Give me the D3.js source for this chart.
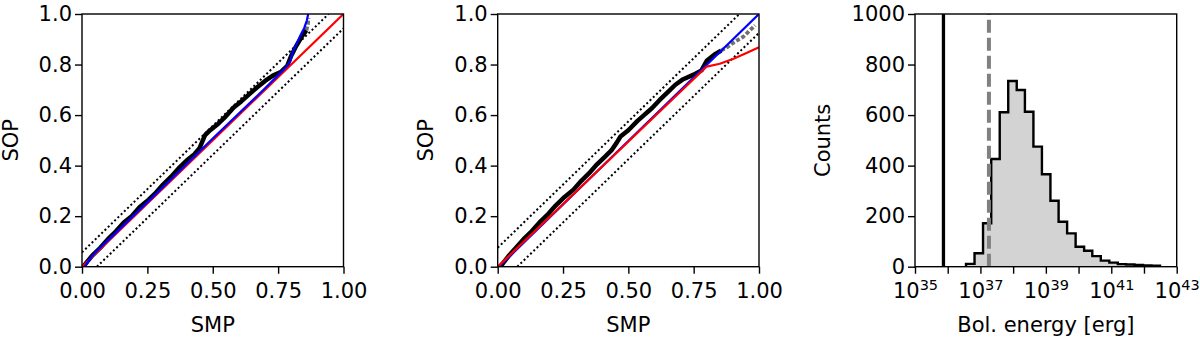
<!DOCTYPE html>
<html>
<head>
<meta charset="utf-8">
<script src="https://cdn.jsdelivr.net/npm/d3@7"></script>
<style>
  body { margin: 0; background: #fff; }
  svg text { font-family: "DejaVu Sans", sans-serif; fill: #000; }
</style>
</head>
<body>
<svg id="fig" width="1200" height="342"></svg>
<script>
'use strict';

// ---- data ----
const smpTicks = [0, 0.25, 0.5, 0.75, 1.0];
const sopTicks = [0, 0.2, 0.4, 0.6, 0.8, 1.0];

// left panel
const qq1Obs = [[0.005, 0.0], [0.02, 0.02], [0.04, 0.045], [0.07, 0.075], [0.10, 0.11], [0.13, 0.14],
	[0.16, 0.175], [0.19, 0.2], [0.22, 0.235], [0.255, 0.265], [0.28, 0.29], [0.31, 0.325],
	[0.34, 0.355], [0.37, 0.39], [0.40, 0.42], [0.43, 0.445], [0.45, 0.47], [0.47, 0.52],
	[0.49, 0.54], [0.52, 0.565], [0.55, 0.595], [0.58, 0.63], [0.61, 0.655], [0.64, 0.683],
	[0.67, 0.71], [0.70, 0.735], [0.73, 0.756], [0.76, 0.77], [0.785, 0.795], [0.80, 0.835],
	[0.82, 0.875], [0.84, 0.91], [0.858, 0.935]];
const qq1Tail = [[0.858, 0.935], [0.864, 0.96], [0.866, 0.985]];
const qq1Red = [[0, 0], [1, 1]];
const qq1Blue = [[0.01, 0.0], [0.03, 0.03], [0.05, 0.055], [0.1, 0.105], [0.3, 0.305], [0.5, 0.507],
	[0.7, 0.706], [0.76, 0.768], [0.785, 0.795], [0.797, 0.815], [0.806, 0.85], [0.82, 0.88],
	[0.835, 0.915], [0.85, 0.945], [0.86, 0.975], [0.865, 1.0]];
const qq1Band = 0.057;

// middle panel
const qq2Obs = [[0.01, 0.0], [0.04, 0.04], [0.07, 0.075], [0.10, 0.11], [0.13, 0.14], [0.16, 0.175],
	[0.19, 0.205], [0.22, 0.24], [0.255, 0.275], [0.29, 0.305], [0.32, 0.34], [0.35, 0.37],
	[0.38, 0.405], [0.41, 0.435], [0.435, 0.46], [0.455, 0.49], [0.47, 0.515], [0.50, 0.54],
	[0.535, 0.577], [0.56, 0.6], [0.59, 0.627], [0.62, 0.66], [0.65, 0.69], [0.68, 0.72],
	[0.71, 0.742], [0.75, 0.76], [0.78, 0.777], [0.80, 0.815], [0.83, 0.84], [0.855, 0.855]];
const qq2Tail = [[0.855, 0.855], [0.88, 0.87], [0.90, 0.885], [0.92, 0.898], [0.94, 0.91],
	[0.96, 0.93], [0.975, 0.945], [0.985, 0.955]];
const qq2Red = [[0, 0], [0.8, 0.792], [0.85, 0.803], [0.9, 0.822], [0.95, 0.845], [1.0, 0.868]];
const qq2Blue = [[0.005, 0.0], [1.0, 1.0]];
const qq2Band = 0.075;

// right panel: histogram of bolometric energy (log10 erg bin edges)
const binEdges = [36.56, 36.82, 37.08, 37.33, 37.59, 37.85, 38.11, 38.36, 38.62, 38.88, 39.14, 39.39,
	39.65, 39.91, 40.17, 40.42, 40.68, 40.94, 41.20, 41.45, 41.71, 41.97, 42.23, 42.49];
const binCounts = [11, 53, 172, 426, 611, 735, 699, 613, 475, 366, 261, 178, 132, 79, 63, 42, 24, 16,
	10, 9, 7, 5, 4];
const countTicks = [0, 200, 400, 600, 800, 1000];
const energyTicks = [35, 36, 37, 38, 39, 40, 41, 42, 43];
const observedLogE = 35.87;
const limitLogE = 37.26;

// ---- layout ----
const yTop = 14, yBottom = 266.7;
const fontSize = 21;
const svg = d3.select('#fig');

function box(g, left, right) {
	g.append('rect')
		.attr('x', left).attr('y', yTop)
		.attr('width', right - left).attr('height', yBottom - yTop)
		.attr('fill', 'none').attr('stroke', '#000').attr('stroke-width', 1.4);
}

function styleAxis(sel) {
	sel.select('.domain').remove();
	sel.selectAll('.tick line').attr('stroke', '#000').attr('stroke-width', 1.4);
	sel.selectAll('text').attr('font-size', fontSize).attr('font-family', '"DejaVu Sans", sans-serif');
}

function labels(left, right, xText, yText, yLabelX) {
	svg.append('text')
		.attr('x', (left + right) / 2).attr('y', 331.5)
		.attr('text-anchor', 'middle').attr('font-size', fontSize)
		.text(xText);
	svg.append('text')
		.attr('transform', `translate(${yLabelX},${(yTop + yBottom) / 2}) rotate(-90)`)
		.attr('dy', '0.36em')
		.attr('text-anchor', 'middle').attr('font-size', fontSize)
		.text(yText);
}

function qqPanel(id, left, right, obs, tail, red, blue, band, redOnTop) {
	let x = d3.scaleLinear().domain([0, 1]).range([left, right]);
	let y = d3.scaleLinear().domain([0, 1]).range([yBottom, yTop]);
	let line = d3.line().x(d => x(d[0])).y(d => y(d[1]));

	svg.append('clipPath').attr('id', id)
		.append('rect').attr('x', left).attr('y', yTop)
		.attr('width', right - left).attr('height', yBottom - yTop);

	let g = svg.append('g').attr('clip-path', `url(#${id})`);

	// confidence band
	[[[0, band], [1 - band, 1]], [[band, 0], [1, 1 - band]]].forEach(seg => {
		g.append('path').attr('d', line(seg))
			.attr('fill', 'none').attr('stroke', '#000')
			.attr('stroke-width', 2).attr('stroke-dasharray', '2,2.5');
	});

	g.append('path').attr('d', line(tail))
		.attr('fill', 'none').attr('stroke', '#333').attr('stroke-opacity', 0.7)
		.attr('stroke-width', 3.8).attr('stroke-dasharray', '4,2').attr('stroke-linejoin', 'round');
	g.append('path').attr('d', line(obs))
		.attr('fill', 'none').attr('stroke', '#000')
		.attr('stroke-width', 4.5).attr('stroke-linejoin', 'round');

	let order = redOnTop ? [[blue, '#0000ff'], [red, '#ff0000']] : [[red, '#ff0000'], [blue, '#0000ff']];
	order.forEach(([data, color]) => {
		g.append('path').attr('d', line(data))
			.attr('fill', 'none').attr('stroke', color)
			.attr('stroke-width', 2.2).attr('stroke-linejoin', 'round');
	});

	svg.append('g').attr('transform', `translate(0,${yBottom})`)
		.call(d3.axisBottom(x).tickValues(smpTicks).tickFormat(d3.format('.2f')).tickSize(7).tickPadding(9.4))
		.call(styleAxis);
	svg.append('g').attr('transform', `translate(${left},0)`)
		.call(d3.axisLeft(y).tickValues(sopTicks).tickFormat(d3.format('.1f')).tickSize(7).tickPadding(3))
		.call(styleAxis);

	box(svg, left, right);
	labels(left, right, 'SMP', 'SOP', left - 71.8);
}

qqPanel('clip1', 82, 343.5, qq1Obs, qq1Tail, qq1Red, qq1Blue, qq1Band, false);
qqPanel('clip2', 497.7, 759, qq2Obs, qq2Tail, qq2Red, qq2Blue, qq2Band, true);

// ---- histogram ----
(function() {
	let left = 915, right = 1176.7;
	let x = d3.scaleLog().domain([1e35, 1e43]).range([left, right]);
	let y = d3.scaleLinear().domain([0, 1000]).range([yBottom, yTop]);

	let path = d3.path();
	path.moveTo(x(Math.pow(10, binEdges[0])), y(0));
	binCounts.forEach((c, i) => {
		path.lineTo(x(Math.pow(10, binEdges[i])), y(c));
		path.lineTo(x(Math.pow(10, binEdges[i + 1])), y(c));
	});
	path.lineTo(x(Math.pow(10, binEdges[binEdges.length - 1])), y(0));

	svg.append('path').attr('d', path.toString())
		.attr('fill', '#d3d3d3').attr('stroke', '#000')
		.attr('stroke-width', 2.4).attr('stroke-linejoin', 'miter');

	svg.append('line')
		.attr('x1', x(Math.pow(10, observedLogE))).attr('x2', x(Math.pow(10, observedLogE)))
		.attr('y1', y(0)).attr('y2', y(1000))
		.attr('stroke', '#000').attr('stroke-width', 3.3);
	svg.append('line')
		.attr('x1', x(Math.pow(10, limitLogE))).attr('x2', x(Math.pow(10, limitLogE)))
		.attr('y1', y(0)).attr('y2', y(1000))
		.attr('stroke', '#808080').attr('stroke-width', 4).attr('stroke-dasharray', '13,5');

	let xAxis = svg.append('g').attr('transform', `translate(0,${yBottom})`)
		.call(d3.axisBottom(x).tickValues(energyTicks.map(e => Math.pow(10, e)))
			.tickFormat(() => '').tickSize(7).tickPadding(9.4))
		.call(styleAxis);
	xAxis.selectAll('.tick text').each(function(d, i) {
		let e = energyTicks[i];
		if (e % 2 === 0) return;
		let t = d3.select(this);
		t.append('tspan').text('10');
		t.append('tspan').attr('dy', -8).attr('font-size', 14.5).text(e);
	});

	svg.append('g').attr('transform', `translate(${left},0)`)
		.call(d3.axisLeft(y).tickValues(countTicks).tickFormat(d3.format('d')).tickSize(7).tickPadding(3))
		.call(styleAxis);

	box(svg, left, right);
	labels(left, right, 'Bol. energy [erg]', 'Counts', left - 93);
})();
</script>
</body>
</html>
